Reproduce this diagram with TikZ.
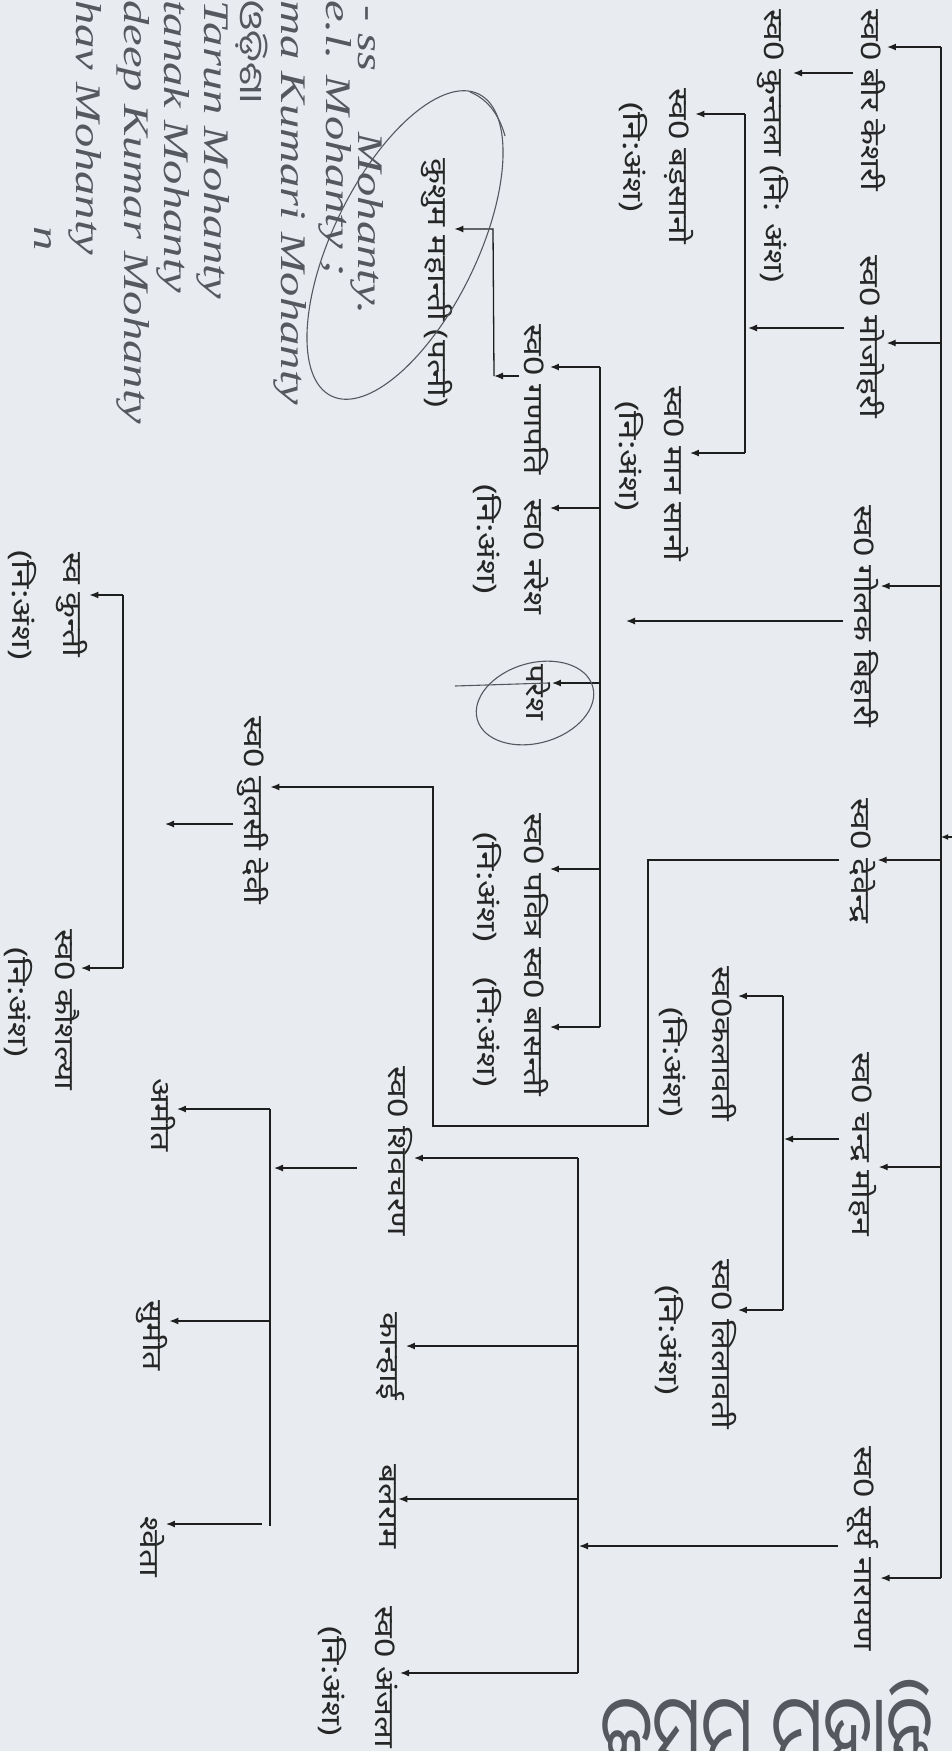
\documentclass[tikz,border=0pt]{standalone}
\usepackage{fontspec}
\usetikzlibrary{arrows.meta}
\newfontfamily\dev[Script=Devanagari]{Noto Sans}
\newfontfamily\odia[Script=Oriya]{Noto Sans Oriya UI}
\newfontfamily\hand{Liberation Serif}
\definecolor{bgc}{HTML}{E8ECF0}
\definecolor{linec}{HTML}{1E1E1E}
\definecolor{txtc}{HTML}{262626}
\definecolor{penc}{HTML}{55595F}
\tikzset{
  nm/.style={rotate=-90, xscale=1.25, anchor=west, inner sep=1.5pt, text=txtc, font={\dev\fontsize{27}{30}\selectfont}},
  nsub/.style={rotate=-90, xscale=1.3, anchor=west, inner sep=1.5pt, text=txtc, font={\dev\fontsize{27}{30}\selectfont}},
  hw/.style={rotate=-90, xscale=1.35, anchor=west, inner sep=0pt, text=penc, font={\hand\itshape\fontsize{36}{38}\selectfont}},
  ln/.style={draw=linec, line width=1.3pt},
  arr/.style={ln, -{Latex[length=9pt,width=7pt]}},
  pen/.style={draw=penc, line width=1.1pt}
}
\begin{document}
\begin{tikzpicture}[x=1pt,y=-1pt]
\fill[bgc] (0,0) rectangle (952,1751);
\useasboundingbox (0,0) rectangle (952,1751);

% ---------- names ----------
\node[nm] (bir) at (873,7) {स्व0 बीर केशरी};
\node[nm] (kunt) at (773,7) {स्व0 कुन्तला (नि: अंश)};
\node[nm] (moj) at (871,253) {स्व0 मोजोहरी};
\node[nm] (bad) at (679,86) {स्व0 बड़सानो};
\node[nsub] (badn) at (633,100) {(नि:अंश)};
\node[nm] (man) at (676,384) {स्व0 मान सानो};
\node[nsub] (mann) at (629,399) {(नि:अंश)};
\node[nm] (gol) at (865,503) {स्व0 गोलक बिहारी};
\node[nm] (kus) at (437,156) {कुशुम महान्ती (पत्नी)};
\node[nm] (gan) at (536,322) {स्व0 गणपति};
\node[nsub] (gann) at (487,482) {(नि:अंश)};
\node[nm] (nar) at (536,497) {स्व0 नरेश};
\node[nm] (par) at (538,662) {परेश};
\node[nm] (pab) at (536,811) {स्व0 पवित्र};
\node[nsub] (pabn) at (487,830) {(नि:अंश)};
\node[nm] (bas) at (536,945) {स्व0 बासन्ती};
\node[nsub] (basn) at (487,975) {(नि:अंश)};
\node[nm] (dev) at (863,796) {स्व0 देवेन्द्र};
\node[nm] (tul) at (253,714) {स्व0 तुलसी देवी};
\node[nm] (kun) at (72,550) {स्व कुन्ती};
\node[nsub] (kunn) at (22,548) {(नि:अंश)};
\node[nm] (kau) at (67,927) {स्व0 कौशल्या};
\node[nsub] (kaun) at (18,945) {(नि:अंश)};
\node[nm] (cha) at (863,1050) {स्व0 चन्द्र मोहन};
\node[nm] (kal) at (724,964) {स्व0कलावती};
\node[nsub] (kaln) at (673,1005) {(नि:अंश)};
\node[nm] (lil) at (724,1257) {स्व0 लिलावती};
\node[nsub] (liln) at (669,1283) {(नि:अंश)};
\node[nm] (sur) at (863,1444) {स्व0 सूर्य नारायण};
\node[nm] (shi) at (400,1064) {स्व0 शिवचरण};
\node[nm] (kan) at (390,1310) {कान्हाई};
\node[nm] (bal) at (388,1462) {बलराम};
\node[nm] (anj) at (387,1604) {स्व0 अंजला};
\node[nsub] (anjn) at (332,1624) {(नि:अंश)};
\node[nm] (ami) at (163,1076) {अमीत};
\node[nm] (sum) at (152,1298) {सुमीत};
\node[nm] (swe) at (152,1514) {श्वेता};

% ---------- junction coordinates ----------
\coordinate (t0) at (941,47);
\coordinate (t1) at (941,343);
\coordinate (t2) at (941,586);
\coordinate (t3) at (941,860);
\coordinate (t4) at (941,1167);
\coordinate (t5) at (941,1578);
\coordinate (tx) at (952,837);
\coordinate (kA) at (853,73);
\coordinate (kB) at (793,73);
\coordinate (mA) at (844,328);
\coordinate (v2a) at (745,114);
\coordinate (v2b) at (745,453);
\coordinate (mB) at (748,328);
\coordinate (gA) at (843,621);
\coordinate (gB) at (626,621);
\coordinate (v3a) at (600,367);
\coordinate (v3b) at (600,508);
\coordinate (v3c) at (600,683);
\coordinate (v3d) at (600,869);
\coordinate (v3e) at (600,1027);
\coordinate (ksA) at (519,376);
\coordinate (ksB) at (494,376);
\coordinate (ksC) at (493,229);
\coordinate (dA) at (839,860);
\coordinate (dB) at (648,860);
\coordinate (dC) at (648,1126);
\coordinate (dD) at (433,1126);
\coordinate (dE) at (433,787);
\coordinate (tuA) at (233,824);
\coordinate (tuB) at (165,824);
\coordinate (v7a) at (123,595);
\coordinate (v7b) at (123,968);
\coordinate (cA) at (839,1139);
\coordinate (cB) at (784,1139);
\coordinate (v4a) at (783,996);
\coordinate (v4b) at (783,1310);
\coordinate (sA) at (838,1546);
\coordinate (sB) at (579,1546);
\coordinate (v5a) at (578,1158);
\coordinate (v5b) at (578,1346);
\coordinate (v5c) at (578,1499);
\coordinate (v5d) at (578,1673);
\coordinate (shA) at (357,1168);
\coordinate (shB) at (274,1168);
\coordinate (v6a) at (270,1109);
\coordinate (v6b) at (270,1321);
\coordinate (v6c) at (270,1526);
\coordinate (v6d) at (262,1524);

% ---------- trunk ----------
\draw[ln] (t0) -- (t5);
\draw[arr] (t0) -- (bir.north |- t0);
\draw[arr] (t1) -- (moj.north |- t1);
\draw[arr] (t2) -- (gol.north |- t2);
\draw[arr] (t3) -- (dev.north |- t3);
\draw[arr] (t4) -- (cha.north |- t4);
\draw[arr] (t5) -- (sur.north |- t5);
\draw[ln, -{Latex[length=7pt,width=6pt]}] (tx) -- (t3 |- tx);

% ---------- bir / kuntala ----------
\draw[arr] (kA) -- (kB);
% ---------- mojohari branch ----------
\draw[arr] (mA) -- (mB);
\draw[ln] (v2a) -- (v2b);
\draw[arr] (v2a) -- (bad.north |- v2a);
\draw[arr] (v2b) -- (man.north |- v2b);
% ---------- golak branch ----------
\draw[arr] (gA) -- (gB);
\draw[ln] (v3a) -- (v3e);
\draw[arr] (v3a) -- (gan.north |- v3a);
\draw[arr] (v3b) -- (nar.north |- v3b);
\draw[arr] (v3c) -- (par.north |- v3c);
\draw[arr] (v3d) -- (pab.north |- v3d);
\draw[arr] (v3e) -- (bas.north |- v3e);
% ganapati - kusum
\draw[arr] (ksA) -- (ksB);
\draw[arr] (ksB) -- (ksC) -- (kus.north |- ksC);
% ---------- devendra - tulasi ----------
\draw[arr] (dA) -- (dB) -- (dC) -- (dD) -- (dE) -- (tul.north |- dE);
\draw[arr] (tuA) -- (tuB);
\draw[ln] (v7a) -- (v7b);
\draw[arr] (v7a) -- (kun.north |- v7a);
\draw[arr] (v7b) -- (kau.north |- v7b);
% ---------- chandra mohan ----------
\draw[arr] (cA) -- (cB);
\draw[ln] (v4a) -- (v4b);
\draw[arr] (v4a) -- (kal.north |- v4a);
\draw[arr] (v4b) -- (lil.north |- v4b);
% ---------- surya narayan ----------
\draw[arr] (sA) -- (sB);
\draw[ln] (v5a) -- (v5d);
\draw[arr] (v5a) -- (shi.north |- v5a);
\draw[arr] (v5b) -- (kan.north |- v5b);
\draw[arr] (v5c) -- (bal.north |- v5c);
\draw[arr] (v5d) -- (anj.north |- v5d);
% shivcharan
\draw[arr] (shA) -- (shB);
\draw[ln] (v6a) -- (v6c);
\draw[arr] (v6a) -- (ami.north |- v6a);
\draw[arr] (v6b) -- (sum.north |- v6b);
\draw[arr] (v6d) -- (swe.north |- v6d);

% ---------- pen marks ----------
\draw[pen, rotate around={64:(405,245)}] (405,245) ellipse [x radius=168pt, y radius=72pt];
\draw[pen] (470,92) .. controls (490,100) and (500,118) .. (505,136);
\draw[pen, rotate around={16:(535,703)}] (535,703) ellipse [x radius=60pt, y radius=40pt];
\draw[pen] (455,686) -- (548,683);

% ---------- handwritten notes ----------
\node[hw] (h1) at (367,5) {- ss \quad Mohanty.};
\node[hw] (h2) at (335,0) {e.l. Mohanty ;};
\node[hw] (h3) at (290,0) {ma Kumari Mohanty};
\node[hw, xscale=1, font={\odia\fontsize{32}{34}\selectfont}] (h4) at (252,0) {ଓଡ଼ିଶା};
\node[hw] (h5) at (213,0) {Tarun Mohanty};
\node[hw] (h6) at (173,0) {tanak Mohanty};
\node[hw] (h7) at (133,0) {deep Kumar Mohanty};
\node[hw] (h8) at (85,0) {hav Mohanty};
\node[hw] (h9) at (43,226) {n};
\node[anchor=north west, inner sep=0pt, text=penc, xscale=0.7, font={\odia\fontsize{100}{110}\selectfont}] (h10) at (600,1680) {କୁସୁମ ମହାନ୍ତି};
\end{tikzpicture}
\end{document}
